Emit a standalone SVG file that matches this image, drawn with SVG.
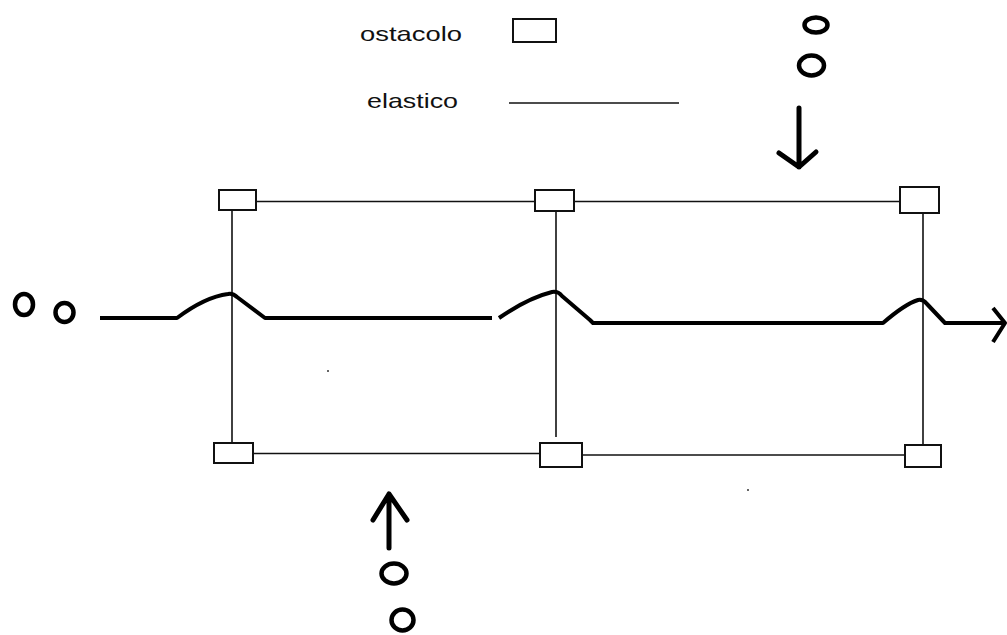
<svg xmlns="http://www.w3.org/2000/svg" width="1007" height="635" viewBox="0 0 1007 635">
  <style>
    .box { fill: #ffffff; stroke: #111111; stroke-width: 2; }
    .thin { fill: none; stroke: #111111; stroke-width: 1.6; }
    .elastic { fill: none; stroke: #000000; stroke-width: 4; stroke-linejoin: round; stroke-linecap: butt; }
    .ring { fill: none; stroke: #000000; stroke-width: 4.5; }
    .arrow { fill: none; stroke: #000000; stroke-width: 5; stroke-linejoin: round; stroke-linecap: round; }
    .label { font-family: "Liberation Sans", Arial, sans-serif; font-size: 21px; fill: #111111; }
  </style>
  <rect width="1007" height="635" fill="#ffffff"/>

  <!-- legend -->
  <g id="legend">
    <text class="label" x="360" y="41" textLength="102" lengthAdjust="spacingAndGlyphs">ostacolo</text>
    <rect class="box" x="513" y="19" width="43" height="23"/>
    <text class="label" x="367" y="108" textLength="91" lengthAdjust="spacingAndGlyphs">elastico</text>
    <line class="thin" x1="509" y1="103" x2="679" y2="103"/>
  </g>

  <!-- rope lines between the obstacles -->
  <g id="connectors">
    <line class="thin" x1="256" y1="201.5" x2="535" y2="201.5"/>
    <line class="thin" x1="574" y1="201.5" x2="900" y2="201.5"/>
    <line class="thin" x1="253" y1="453.5" x2="540" y2="453.5"/>
    <line class="thin" x1="582" y1="455" x2="905" y2="455"/>
    <line class="thin" x1="232" y1="210" x2="232" y2="443"/>
    <line class="thin" x1="556" y1="209" x2="556" y2="437"/>
    <line class="thin" x1="923" y1="213" x2="923" y2="447"/>
  </g>

  <!-- obstacles -->
  <g id="obstacle-top-left"><rect class="box" x="219" y="190" width="37" height="20"/></g>
  <g id="obstacle-top-mid"><rect class="box" x="535" y="190" width="39" height="21"/></g>
  <g id="obstacle-top-right"><rect class="box" x="900" y="187" width="39" height="26"/></g>
  <g id="obstacle-bottom-left"><rect class="box" x="214" y="443" width="39" height="20"/></g>
  <g id="obstacle-bottom-mid"><rect class="box" x="540" y="443" width="42" height="24"/></g>
  <g id="obstacle-bottom-right"><rect class="box" x="905" y="445" width="36" height="22"/></g>

  <!-- elastic band -->
  <g id="elastic">
    <path class="elastic" d="M100,318 L177,318 Q205,297 228,294 Q233,293 237,297 L265,318 L492,318"/>
    <path class="elastic" d="M499,318 Q528,298 552,292 Q558,291 562,296 L590,320 L593,323 L883,323 Q905,304 918,300 Q923,299 927,304 L945,323 L1005,323"/>
    <path class="elastic" d="M993,308 L1005,323 L993,342"/>
  </g>

  <!-- players: left -->
  <g id="players-left">
    <ellipse class="ring" cx="24" cy="304.5" rx="9" ry="10.5"/>
    <ellipse class="ring" cx="64.5" cy="312.5" rx="9" ry="9.5"/>
  </g>

  <!-- players: top, moving down -->
  <g id="players-top">
    <ellipse class="ring" cx="816" cy="25" rx="11.5" ry="7.5"/>
    <ellipse class="ring" cx="811.5" cy="65.5" rx="12.5" ry="10"/>
    <path class="arrow" d="M799,108 L799,167 M779,153 L799,167 L816,152"/>
  </g>

  <!-- players: bottom, moving up -->
  <g id="players-bottom">
    <path class="arrow" d="M389,548 L389,494 M373,520 L389,494 L407,520"/>
    <ellipse class="ring" cx="394" cy="573.5" rx="12.5" ry="10"/>
    <ellipse class="ring" cx="402.5" cy="620" rx="11" ry="10.5"/>
  </g>

  <!-- stray specks -->
  <circle cx="328" cy="371" r="1" fill="#333333"/>
  <circle cx="748" cy="490" r="1" fill="#333333"/>
</svg>
